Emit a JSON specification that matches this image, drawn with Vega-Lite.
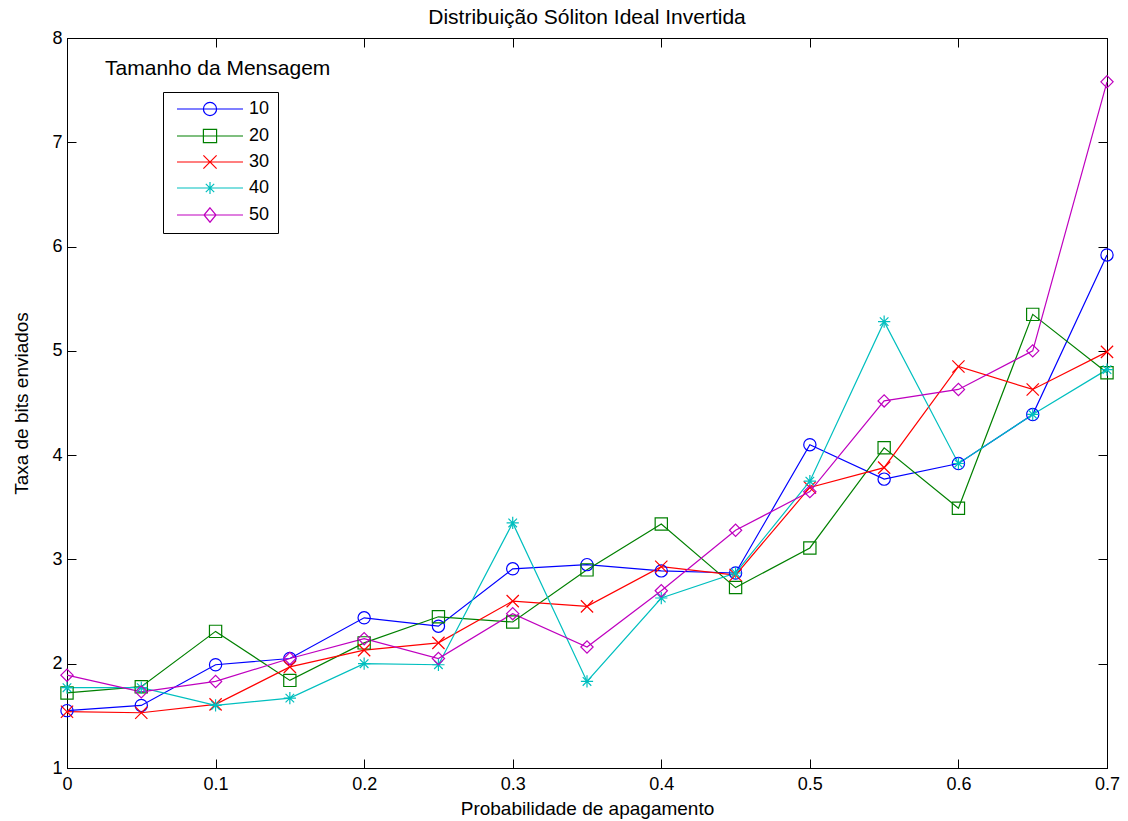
{
  "$schema": "https://vega.github.io/schema/vega-lite/v6.json",
  "width": 1040,
  "height": 730,
  "autosize": {"type": "none"},
  "padding": {"left": 67, "top": 38, "right": 21, "bottom": 53},
  "background": "white",
  "config": {
    "font": "Liberation Sans",
    "view": {"stroke": "black", "strokeWidth": 1},
    "axis": {
      "grid": false,
      "domainColor": "black",
      "tickColor": "black",
      "labelColor": "black",
      "titleColor": "black",
      "labelFont": "Liberation Sans",
      "titleFont": "Liberation Sans",
      "labelFontSize": 18,
      "titleFontSize": 19,
      "titleFontWeight": "normal",
      "tickSize": -9
    }
  },
  "title": {
    "text": "Distribuição Sóliton Ideal Invertida",
    "fontSize": 21,
    "fontWeight": "normal",
    "font": "Liberation Sans",
    "color": "black",
    "anchor": "middle",
    "offset": 1
  },
  "datasets": {
    "d": [
      {"p": 0, "n": "10", "v": 1.55}, {"p": 0.05, "n": "10", "v": 1.60}, {"p": 0.1, "n": "10", "v": 1.99}, {"p": 0.15, "n": "10", "v": 2.05}, {"p": 0.2, "n": "10", "v": 2.44}, {"p": 0.25, "n": "10", "v": 2.36}, {"p": 0.3, "n": "10", "v": 2.91}, {"p": 0.35, "n": "10", "v": 2.95}, {"p": 0.4, "n": "10", "v": 2.89}, {"p": 0.45, "n": "10", "v": 2.87}, {"p": 0.5, "n": "10", "v": 4.10}, {"p": 0.55, "n": "10", "v": 3.77}, {"p": 0.6, "n": "10", "v": 3.92}, {"p": 0.65, "n": "10", "v": 4.39}, {"p": 0.7, "n": "10", "v": 5.92},
      {"p": 0, "n": "20", "v": 1.72}, {"p": 0.05, "n": "20", "v": 1.78}, {"p": 0.1, "n": "20", "v": 2.31}, {"p": 0.15, "n": "20", "v": 1.84}, {"p": 0.2, "n": "20", "v": 2.20}, {"p": 0.25, "n": "20", "v": 2.45}, {"p": 0.3, "n": "20", "v": 2.40}, {"p": 0.35, "n": "20", "v": 2.90}, {"p": 0.4, "n": "20", "v": 3.34}, {"p": 0.45, "n": "20", "v": 2.73}, {"p": 0.5, "n": "20", "v": 3.11}, {"p": 0.55, "n": "20", "v": 4.07}, {"p": 0.6, "n": "20", "v": 3.49}, {"p": 0.65, "n": "20", "v": 5.35}, {"p": 0.7, "n": "20", "v": 4.79},
      {"p": 0, "n": "30", "v": 1.54}, {"p": 0.05, "n": "30", "v": 1.53}, {"p": 0.1, "n": "30", "v": 1.61}, {"p": 0.15, "n": "30", "v": 1.97}, {"p": 0.2, "n": "30", "v": 2.13}, {"p": 0.25, "n": "30", "v": 2.20}, {"p": 0.3, "n": "30", "v": 2.60}, {"p": 0.35, "n": "30", "v": 2.55}, {"p": 0.4, "n": "30", "v": 2.93}, {"p": 0.45, "n": "30", "v": 2.85}, {"p": 0.5, "n": "30", "v": 3.69}, {"p": 0.55, "n": "30", "v": 3.88}, {"p": 0.6, "n": "30", "v": 4.85}, {"p": 0.65, "n": "30", "v": 4.63}, {"p": 0.7, "n": "30", "v": 4.99},
      {"p": 0, "n": "40", "v": 1.77}, {"p": 0.05, "n": "40", "v": 1.77}, {"p": 0.1, "n": "40", "v": 1.60}, {"p": 0.15, "n": "40", "v": 1.67}, {"p": 0.2, "n": "40", "v": 2.00}, {"p": 0.25, "n": "40", "v": 1.99}, {"p": 0.3, "n": "40", "v": 3.35}, {"p": 0.35, "n": "40", "v": 1.83}, {"p": 0.4, "n": "40", "v": 2.63}, {"p": 0.45, "n": "40", "v": 2.87}, {"p": 0.5, "n": "40", "v": 3.75}, {"p": 0.55, "n": "40", "v": 5.28}, {"p": 0.6, "n": "40", "v": 3.92}, {"p": 0.65, "n": "40", "v": 4.39}, {"p": 0.7, "n": "40", "v": 4.82},
      {"p": 0, "n": "50", "v": 1.89}, {"p": 0.05, "n": "50", "v": 1.73}, {"p": 0.1, "n": "50", "v": 1.83}, {"p": 0.15, "n": "50", "v": 2.05}, {"p": 0.2, "n": "50", "v": 2.24}, {"p": 0.25, "n": "50", "v": 2.05}, {"p": 0.3, "n": "50", "v": 2.48}, {"p": 0.35, "n": "50", "v": 2.16}, {"p": 0.4, "n": "50", "v": 2.70}, {"p": 0.45, "n": "50", "v": 3.28}, {"p": 0.5, "n": "50", "v": 3.65}, {"p": 0.55, "n": "50", "v": 4.52}, {"p": 0.6, "n": "50", "v": 4.63}, {"p": 0.65, "n": "50", "v": 5.00}, {"p": 0.7, "n": "50", "v": 7.58}
    ],
    "ann": [
      {"x": 0.0256, "y": 7.70, "t": "Tamanho da Mensagem"}
    ]
  },
  "resolve": {
    "axis": {"x": "independent", "y": "independent"},
    "scale": {"color": "independent", "shape": "independent"}
  },
  "layer": [
    {
      "data": {"name": "d"},
      "mark": {"type": "line", "strokeWidth": 1.2},
      "encoding": {
        "x": {"field": "p", "type": "quantitative", "scale": {"domain": [0, 0.7], "nice": false, "zero": false},
              "axis": {"orient": "bottom", "title": "Probabilidade de apagamento", "values": [0, 0.1, 0.2, 0.3, 0.4, 0.5, 0.6, 0.7], "format": "~g", "labelPadding": 16, "titlePadding": 6, "labelFlush": false}},
        "y": {"field": "v", "type": "quantitative", "scale": {"domain": [1, 8], "nice": false, "zero": false},
              "axis": {"orient": "left", "title": "Taxa de bits enviados", "values": [1, 2, 3, 4, 5, 6, 7, 8], "labelPadding": 14, "titlePadding": 20, "labelFlush": false}},
        "color": {"field": "n", "type": "nominal", "scale": {"domain": ["10", "20", "30", "40", "50"], "range": ["#0000ff", "#008000", "#ff0000", "#00bfbf", "#bf00bf"]}, "legend": null},
        "order": {"field": "p", "type": "quantitative"}
      }
    },
    {
      "data": {"name": "d"},
      "mark": {"type": "point", "filled": false, "strokeWidth": 1.2, "size": 150, "opacity": 1},
      "encoding": {
        "x": {"field": "p", "type": "quantitative", "axis": {"orient": "top", "labels": false, "title": null, "values": [0, 0.1, 0.2, 0.3, 0.4, 0.5, 0.6, 0.7]}},
        "y": {"field": "v", "type": "quantitative", "axis": {"orient": "right", "labels": false, "title": null, "values": [1, 2, 3, 4, 5, 6, 7, 8]}},
        "color": {"field": "n", "type": "nominal", "scale": {"domain": ["10", "20", "30", "40", "50"], "range": ["#0000ff", "#008000", "#ff0000", "#00bfbf", "#bf00bf"]}, "legend": null},
        "shape": {"field": "n", "type": "nominal", "scale": {"domain": ["10", "20", "30", "40", "50"], "range": ["circle", "square", "M-1,-1L1,1M-1,1L1,-1", "M-1,0L1,0M0,-1L0,1M-0.7,-0.7L0.7,0.7M-0.7,0.7L0.7,-0.7", "diamond"]}, "legend": null}
      }
    },
    {
      "data": {"name": "d"},
      "transform": [{"filter": "datum.p < 0"}],
      "mark": {"type": "point", "filled": false, "strokeWidth": 1.2, "opacity": 1},
      "encoding": {
        "x": {"field": "p", "type": "quantitative", "axis": null},
        "y": {"field": "v", "type": "quantitative", "axis": null},
        "color": {"field": "n", "type": "nominal", "scale": {"domain": ["10", "20", "30", "40", "50"], "range": ["#0000ff", "#008000", "#ff0000", "#00bfbf", "#bf00bf"]},
          "legend": {
            "title": null,
            "orient": "none",
            "legendX": 96,
            "legendY": 54,
            "strokeColor": "black",
            "fillColor": "white",
            "padding": 8,
            "symbolSize": 144,
            "symbolOffset": 30,
            "labelOffset": 30,
            "labelFontSize": 18,
            "labelFont": "Liberation Sans",
            "labelColor": "black",
            "rowPadding": 8,
            "symbolStrokeWidth": 1.2,
            "symbolOpacity": 1
          }
        },
        "shape": {"field": "n", "type": "nominal", "scale": {"domain": ["10", "20", "30", "40", "50"], "range": [
          "M-5.5,0L5.5,0M-1.1,0A1.1,1.1 0 1,0 1.1,0A1.1,1.1 0 1,0 -1.1,0",
          "M-5.5,0L5.5,0M-1.1,-1.1L1.1,-1.1L1.1,1.1L-1.1,1.1Z",
          "M-5.5,0L5.5,0M-1.1,-1.1L1.1,1.1M-1.1,1.1L1.1,-1.1",
          "M-5.5,0L5.5,0M0,-1L0,1M-0.7,-0.7L0.7,0.7M-0.7,0.7L0.7,-0.7",
          "M-5.5,0L5.5,0M0,-1.2L1,0L0,1.2L-1,0Z"]},
          "legend": {
            "title": null,
            "orient": "none",
            "legendX": 96,
            "legendY": 54,
            "strokeColor": "black",
            "fillColor": "white",
            "padding": 8,
            "symbolSize": 144,
            "symbolOffset": 30,
            "labelOffset": 30,
            "labelFontSize": 18,
            "labelFont": "Liberation Sans",
            "labelColor": "black",
            "rowPadding": 8,
            "symbolStrokeWidth": 1.2,
            "symbolOpacity": 1
          }
        }
      }
    },
    {
      "data": {"name": "ann"},
      "mark": {"type": "text", "align": "left", "baseline": "middle", "fontSize": 21, "font": "Liberation Sans", "color": "black"},
      "encoding": {
        "x": {"field": "x", "type": "quantitative", "axis": null},
        "y": {"field": "y", "type": "quantitative", "axis": null},
        "text": {"field": "t"}
      }
    }
  ]
}
